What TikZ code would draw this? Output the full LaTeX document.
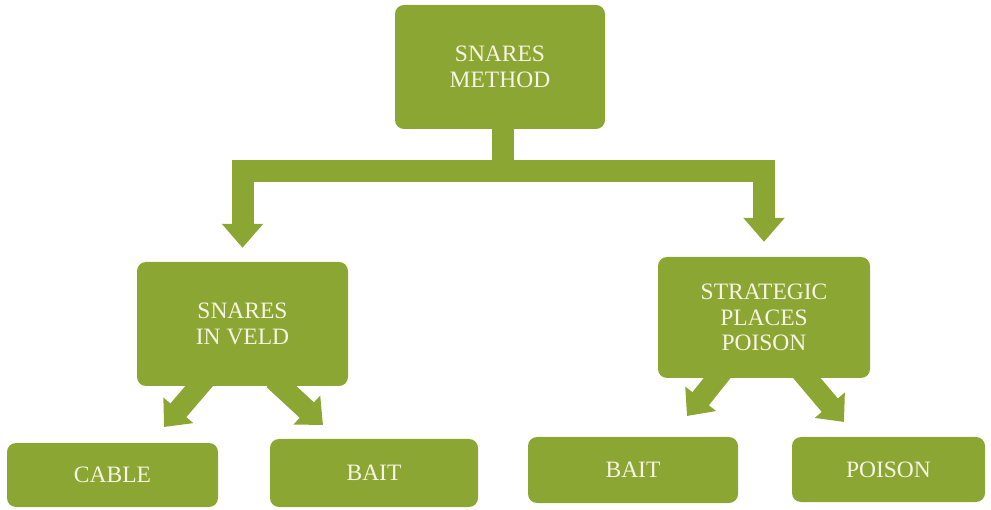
\documentclass[tikz,border=0pt]{standalone}
\usepackage{fontspec}
\setmainfont{Liberation Serif}
\usetikzlibrary{arrows.meta,calc}
\definecolor{leaf}{RGB}{140,166,52}
\definecolor{label}{RGB}{246,244,228}
\begin{document}
\begin{tikzpicture}[x=1pt,y=-1pt,
  box/.style={fill=leaf, rounded corners=9pt, inner sep=0pt, align=center,
    text=label, font=\fontsize{23.5}{25.5}\selectfont},
  trunk/.style={draw=leaf, line width=22pt, line join=miter,
    -{Triangle[width=40pt,length=24pt]}},
  twig/.style={draw=leaf, line width=21pt, shorten <=-10pt,
    -{Triangle[width=38pt,length=22pt]}}]
\useasboundingbox (0,0) rectangle (991,510);

% boxes
\node[box, minimum width=210pt, minimum height=124pt] (root) at (500,67) {SNARES\\METHOD};
\node[box, minimum width=211pt, minimum height=124pt] (veld) at (242.5,324) {SNARES\\IN VELD};
\node[box, minimum width=212pt, minimum height=121pt] (place) at (764,317.5) {STRATEGIC\\PLACES\\POISON};
\node[box, minimum width=211pt, minimum height=64pt] (cable) at (112.5,475) {CABLE};
\node[box, minimum width=208pt, minimum height=68pt] (baitA) at (374,473) {BAIT};
\node[box, minimum width=210pt, minimum height=66pt] (baitB) at (633,470) {BAIT};
\node[box, minimum width=193pt, minimum height=65pt] (poison) at (888.5,469.5) {POISON};

% branching connector from the top box
\coordinate (stem) at ([xshift=3pt]root.south);
\coordinate (bar) at (503,171);
\draw[trunk] (stem) -- (stem |- bar) -| ([yshift=14pt]veld.north);
\draw[trunk] (stem) -- (stem |- bar) -| ([yshift=15pt]place.north);

% diagonal arrows to the bottom row
\coordinate (tipA) at (164,427);
\coordinate (tipB) at (323,425);
\coordinate (tipC) at (687,416);
\coordinate (tipD) at (844,422);
\draw[twig] ([xshift=-43.5pt]veld.south) -- (tipA);
\draw[twig] ([xshift=38.5pt]veld.south) -- (tipB);
\draw[twig] ([xshift=-47pt]place.south) -- (tipC);
\draw[twig] ([xshift=43pt]place.south) -- (tipD);
\end{tikzpicture}
\end{document}
